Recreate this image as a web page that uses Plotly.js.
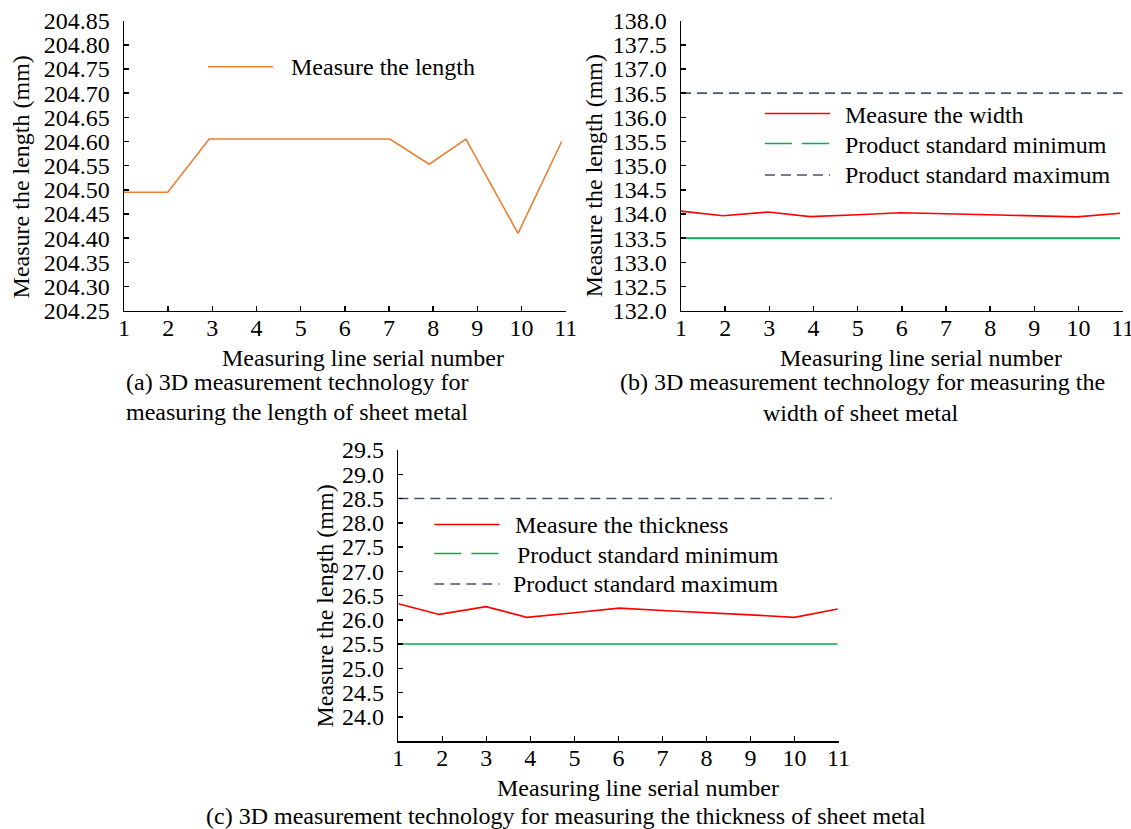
<!DOCTYPE html>
<html>
<head>
<meta charset="utf-8">
<script src="https://cdn.plot.ly/plotly-3.0.1.min.js"></script>
<style>
html,body{margin:0;padding:0;background:#fff;}
#chart{width:1131px;height:829px;}
</style>
</head>
<body>
<div id="chart"></div>
<script>
// ---------- data ----------
const serialTicks = [1, 2, 3, 4, 5, 6, 7, 8, 9, 10, 11];

// (a) length
const lengthX = [1, 1.99, 2.93, 4, 5, 6, 7.02, 7.91, 8.74, 9.92, 10.91];
const lengthVals = [204.495, 204.495, 204.605, 204.605, 204.605, 204.605, 204.605, 204.553, 204.605, 204.41, 204.60];
const lengthTicks = [204.25, 204.30, 204.35, 204.40, 204.45, 204.50, 204.55, 204.60, 204.65, 204.70, 204.75, 204.80, 204.85];

// (b) width
const widthX = [1, 1.95, 2.98, 3.92, 5, 5.96, 7, 8, 9, 9.96, 10.94];
const widthVals = [134.06, 133.965, 134.04, 133.945, 133.985, 134.025, 134.006, 133.986, 133.965, 133.94, 134.015];
const widthMinX = [1, 10.94];
const widthMin = [133.5, 133.5];
const widthMaxX = [1, 11];
const widthMax = [136.5, 136.5];
const widthTicks = [132.0, 132.5, 133.0, 133.5, 134.0, 134.5, 135.0, 135.5, 136.0, 136.5, 137.0, 137.5, 138.0];

// (c) thickness
const thickX = [1, 1.93, 2.99, 3.92, 5, 6.02, 7, 8, 9, 10, 10.98];
const thickVals = [26.33, 26.11, 26.27, 26.05, 26.145, 26.24, 26.19, 26.15, 26.10, 26.05, 26.22];
const thickMinX = [1, 10.98];
const thickMin = [25.5, 25.5];
const thickMaxX = [1, 10.85];
const thickMax = [28.5, 28.5];
const thickTicks = [24.0, 24.5, 25.0, 25.5, 26.0, 26.5, 27.0, 27.5, 28.0, 28.5, 29.0, 29.5];

// ---------- texts ----------
const nameLength = 'Measure the length';
const nameWidth = 'Measure the width';
const nameThick = 'Measure the thickness';
const nameMin = 'Product standard minimum';
const nameMax = 'Product standard maximum';
const xTitle = 'Measuring line serial number';
const yTitle = 'Measure the length (mm)';
const capA = ['(a) 3D measurement technology for', 'measuring the length of sheet metal'];
const capB = ['(b) 3D measurement technology for measuring the', 'width of sheet metal'];
const capC = '(c) 3D measurement technology for measuring the thickness of sheet metal';

// ---------- styles ----------
const W = 1131, H = 829;
const FONT = 'Liberation Serif, Times New Roman, serif';
const C_ORANGE = '#ED7D31', C_RED = '#FF0000', C_GREEN = '#00B050', C_BLUE = '#44546A';
const FS = 24;
const TFS = 24;
const px = x => x / W;
const py = y => 1 - y / H;

function xax(d0, d1, anchor) {
  return {
    domain: [px(d0), px(d1)], anchor: anchor, range: [1, 11],
    tickvals: serialTicks, ticktext: serialTicks.map(String),
    ticks: 'inside', ticklen: 5, tickwidth: 1.5, tickcolor: '#000',
    showline: true, linecolor: '#000', linewidth: 1.5, mirror: false,
    showgrid: false, zeroline: false, ticklabelstandoff: -5,
    ticklabeloverflow: 'allow',
    tickfont: {family: FONT, size: TFS, color: '#000'}
  };
}
function yax(top, bottom, range, ticks, dec, anchor) {
  return {
    domain: [py(bottom), py(top)], anchor: anchor, range: range,
    tickvals: ticks, ticktext: ticks.map(v => v.toFixed(dec)),
    ticks: 'inside', ticklen: 5, tickwidth: 1.5, tickcolor: '#000',
    showline: true, linecolor: '#000', linewidth: 1.5, mirror: false,
    showgrid: false, zeroline: false, ticklabelstandoff: 8,
    ticklabeloverflow: 'allow',
    tickfont: {family: FONT, size: TFS, color: '#000'}
  };
}

const traces = [
  {x: lengthX, y: lengthVals, xaxis: 'x', yaxis: 'y', mode: 'lines', name: nameLength,
   line: {color: C_ORANGE, width: 1.6}, showlegend: false},
  {x: widthMaxX, y: widthMax, xaxis: 'x2', yaxis: 'y2', mode: 'lines', name: nameMax,
   line: {color: C_BLUE, width: 1.6, dash: '10px,6px'}, showlegend: false},
  {x: widthMinX, y: widthMin, xaxis: 'x2', yaxis: 'y2', mode: 'lines', name: nameMin,
   line: {color: C_GREEN, width: 1.6}, showlegend: false},
  {x: widthX, y: widthVals, xaxis: 'x2', yaxis: 'y2', mode: 'lines', name: nameWidth,
   line: {color: C_RED, width: 1.6}, showlegend: false},
  {x: thickMaxX, y: thickMax, xaxis: 'x3', yaxis: 'y3', mode: 'lines', name: nameMax,
   line: {color: C_BLUE, width: 1.6, dash: '10px,6px'}, showlegend: false},
  {x: thickMinX, y: thickMin, xaxis: 'x3', yaxis: 'y3', mode: 'lines', name: nameMin,
   line: {color: C_GREEN, width: 1.6}, showlegend: false},
  {x: thickX, y: thickVals, xaxis: 'x3', yaxis: 'y3', mode: 'lines', name: nameThick,
   line: {color: C_RED, width: 1.6}, showlegend: false}
];

function txt(x, y, text, opts) {
  return Object.assign({
    xref: 'paper', yref: 'paper', x: px(x), y: py(y), text: text, showarrow: false,
    xanchor: 'center', yanchor: 'middle',
    font: {family: FONT, size: FS, color: '#000'}
  }, opts || {});
}
function sample(x0, x1, y, color, dash) {
  return {type: 'line', xref: 'paper', yref: 'paper', x0: px(x0), x1: px(x1), y0: py(y), y1: py(y),
          line: {color: color, width: 1.6, dash: dash}};
}

const annotations = [
  // axis titles
  txt(363, 358, xTitle), txt(921, 358, xTitle), txt(637.5, 788, xTitle),
  txt(20.7, 176.7, yTitle, {textangle: -90}),
  txt(594.3, 176, yTitle, {textangle: -90}),
  txt(324.6, 606, yTitle, {textangle: -90}),
  // captions
  txt(124, 382, capA[0], {xanchor: 'left'}),
  txt(124, 412, capA[1], {xanchor: 'left'}),
  txt(862, 382, capB[0]),
  txt(861, 413, capB[1]),
  txt(566, 816, capC),
  // legend texts
  txt(289, 67, nameLength, {xanchor: 'left'}),
  txt(843, 115, nameWidth, {xanchor: 'left'}),
  txt(843, 145, nameMin, {xanchor: 'left'}),
  txt(843, 175, nameMax, {xanchor: 'left'}),
  txt(512.7, 525, nameThick, {xanchor: 'left'}),
  txt(515, 555, nameMin, {xanchor: 'left'}),
  txt(510.7, 584, nameMax, {xanchor: 'left'})
];

const shapes = [
  sample(208, 273, 66.7, C_ORANGE, 'solid'),
  sample(765, 830, 113.5, C_RED, 'solid'),
  sample(765, 830, 143.5, C_GREEN, '27px,10px'),
  sample(765, 830, 175, C_BLUE, '10px,6px'),
  sample(434.3, 499.3, 524.5, C_RED, 'solid'),
  sample(434.3, 499.3, 553.5, C_GREEN, '27px,10px'),
  sample(434.3, 499.3, 584, C_BLUE, '10px,6px')
];

const layout = {
  width: W, height: H,
  margin: {l: 0, r: 0, t: 0, b: 0},
  paper_bgcolor: '#fff', plot_bgcolor: '#fff',
  showlegend: false,
  font: {family: FONT, size: FS, color: '#000'},
  xaxis: xax(124, 565.7, 'y'),
  yaxis: yax(20.6, 310.7, [204.25, 204.85], lengthTicks, 2, 'x'),
  xaxis2: xax(681, 1122.7, 'y2'),
  yaxis2: yax(20.6, 310.7, [132, 138], widthTicks, 1, 'x2'),
  xaxis3: xax(398.3, 838.5, 'y3'),
  yaxis3: yax(450, 741, [23.5, 29.5], thickTicks, 1, 'x3'),
  annotations: annotations,
  shapes: shapes
};

Plotly.newPlot('chart', traces, layout, {displayModeBar: false, staticPlot: true});
</script>
</body>
</html>
